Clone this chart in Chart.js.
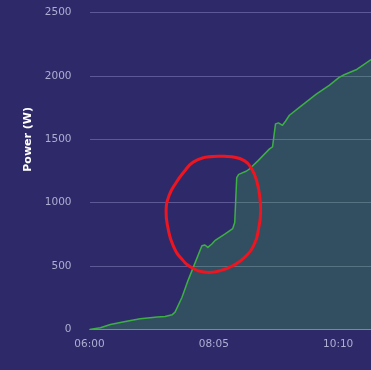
<!DOCTYPE html>
<html>
<head>
<meta charset="utf-8">
<script src="https://cdn.jsdelivr.net/npm/chart.js@4"></script>
<style>
  html, body { margin: 0; padding: 0; background: #2e2a69; overflow: hidden; width: 371px; height: 370px; }
  #wrap { position: absolute; left: 0; top: -75px; width: 371px; height: 445px; }
</style>
</head>
<body>
<div id="wrap"><canvas id="c"></canvas></div>
<script>
// Power readings (time of day, watts)
const times = ["06:00","06:11","06:21","06:36","06:51","07:01","07:08","07:16","07:23","07:26",
               "07:33","07:39","07:43","07:53","07:56","07:59","08:03","08:06","08:16","08:24",
               "08:26","08:28","08:30","08:38","08:41","08:49","09:01","09:04","09:07","09:10",
               "09:14","09:17","09:21","09:31","09:48","10:01","10:11","10:16","10:28","10:43"];
const watts = [0,13,39,63,84,92,97,102,115,136,
               254,385,464,660,666,647,674,700,752,796,
               843,1197,1224,1250,1268,1328,1425,1440,1622,1630,
               1611,1643,1690,1753,1857,1926,1989,2010,2049,2130];

// Hand-drawn red annotation loop (time, watts)
const circleTimes = ["07:56","08:09","08:23","08:36","08:43","08:48","08:51","08:52","08:50","08:46",
                     "08:37","08:25","08:11","07:57","07:44","07:33","07:24","07:19","07:17","07:20",
                     "07:27","07:35","07:44","07:56","08:09"];
const circleWatts = [1358,1366,1362,1330,1268,1173,1056,922,797,679,
                     577,506,463,451,483,553,663,797,938,1056,
                     1158,1244,1319,1358,1366];

const yTicks = [0,500,1000,1500,2000,2500,3000];
const xTickLabels = ["06:00","08:05","10:10"];

function toMin(t){ const [h,m]=t.split(":").map(Number); return h*60+m; }
const base = toMin(xTickLabels[0]);
function fmt(m){ const t=base+m; const h=Math.floor(t/60), mm=t%60; return String(h).padStart(2,"0")+":"+String(mm).padStart(2,"0"); }

const powerData = times.map((t,i)=>({x: toMin(t)-base, y: watts[i]}));
const circleData = circleTimes.map((t,i)=>({x: toMin(t)-base, y: circleWatts[i]}));

new Chart(document.getElementById("c"), {
  type: "line",
  data: {
    datasets: [
      { data: circleData, borderColor: "#ee1520", borderWidth: 3, fill: false, pointRadius: 0, tension: 0.5,
        borderCapStyle: "round", borderJoinStyle: "round", order: 0 },
      { data: powerData, borderColor: "#3cb043", borderWidth: 1.5, backgroundColor: "rgba(65,190,75,0.25)",
        fill: "origin", pointRadius: 0, tension: 0, borderJoinStyle: "round", order: 1 }
    ]
  },
  options: {
    responsive: true, maintainAspectRatio: false, animation: false,
    layout: { padding: { left: 18, right: 0, top: 0, bottom: 10 } },
    plugins: { legend: { display: false }, tooltip: { enabled: false } },
    scales: {
      x: {
        type: "linear", min: 0, max: 283,
        afterBuildTicks: s => { s.ticks = xTickLabels.map(t => ({ value: toMin(t) - base })); },
        grid: { display: false, drawTicks: false },
        border: { display: true, color: "rgba(200,200,255,0.35)" },
        ticks: { padding: 9, color: "#aeadd3", font: { family: "DejaVu Sans", size: 10.5 },
                 maxRotation: 0, autoSkip: false, callback: v => fmt(v) }
      },
      y: {
        min: 0, max: 3000,
        afterBuildTicks: s => { s.ticks = yTicks.map(v => ({ value: v })); },
        afterFit: s => { s.width = 71.5; },
        grid: { color: "rgba(200,200,255,0.3)", drawTicks: false },
        border: { display: false },
        ticks: { padding: 18, color: "#aeadd3", font: { family: "DejaVu Sans", size: 10.5 }, callback: v => String(v) },
        title: { display: true, text: "Power (W)", color: "#ffffff", font: { family: "DejaVu Sans", size: 11, weight: "bold" }, padding: { top: 4, bottom: 6 } }
      }
    }
  }
});
</script>
</body>
</html>
